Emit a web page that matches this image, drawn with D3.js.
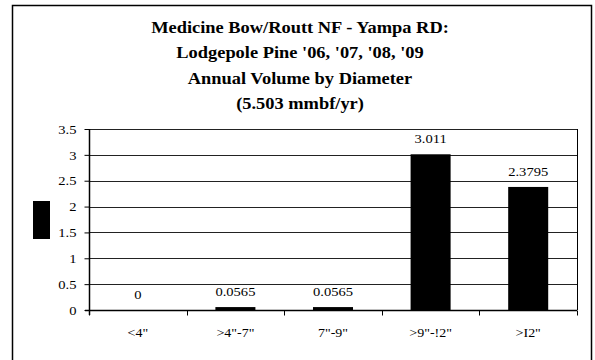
<!DOCTYPE html>
<html><head><meta charset="utf-8">
<script src="https://cdn.jsdelivr.net/npm/d3@7"></script>
<style>body{margin:0;background:#fff}text{font-family:'Liberation Serif','Times New Roman',serif !important}</style>
</head><body><svg id="c" width="595" height="360"></svg>
<script>
const titleLines = ["Medicine Bow/Routt NF - Yampa RD:", "Lodgepole Pine '06, '07, '08, '09", "Annual Volume by Diameter", "(5.503 mmbf/yr)"];
const categories = ['<4"', '>4"-7"', '7"-9"', '>9"-!2"', '>I2"'];
const values = [0, 0.0565, 0.0565, 3.011, 2.3795];
const valueLabels = ["0", "0.0565", "0.0565", "3.011", "2.3795"];
const yTicks = [0, 0.5, 1, 1.5, 2, 2.5, 3, 3.5];
const yTickLabels = ["0", "0.5", "1", "1.5", "2", "2.5", "3", "3.5"];

const FONT = "'Liberation Serif','Times New Roman',serif";
const SX = 1.12;
const svg = d3.select("#c").attr("font-family", FONT);
svg.append("rect").attr("x", 12.5).attr("y", 5.5).attr("width", 579).attr("height", 360)
  .attr("fill", "#fff").attr("stroke", "#000").attr("stroke-width", 1.5);

function place(sel, fx, fy, sx) {
  sel.attr("x", 0).attr("y", 0)
    .attr("transform", (d, i) => `translate(${fx(d, i)},${fy(d, i)}) scale(${sx || SX},1)`);
}

const tl = svg.append("g").selectAll("text").data(titleLines).join("text")
  .attr("text-anchor", "middle").attr("font-weight", "bold").attr("font-size", 16.3).attr("font-family", FONT)
  .text(d => d);
place(tl, () => 300, (d, i) => 33 + i * 25.3, 1.13);

const L = 89, R = 577, T = 129, B = 310;
const x = d3.scaleBand().domain(categories).range([L, R]).paddingInner(0.59).paddingOuter(0.295);
const xb = d3.scaleBand().domain(categories).range([L, R]);
const y = d3.scaleLinear().domain([0, 3.5]).range([B, T]);

svg.append("g").selectAll("line").data(yTicks.slice(1)).join("line")
  .attr("x1", L).attr("x2", R).attr("y1", d => Math.round(y(d)) + 0.5).attr("y2", d => Math.round(y(d)) + 0.5)
  .attr("stroke", "#222").attr("stroke-width", 1);
svg.append("line").attr("x1", R + 0.5).attr("x2", R + 0.5).attr("y1", T).attr("y2", B).attr("stroke", "#000");

svg.append("g").selectAll("rect").data(values).join("rect")
  .attr("x", (d, i) => x(categories[i])).attr("width", x.bandwidth())
  .attr("y", d => y(d)).attr("height", d => B - y(d)).attr("fill", "#000");

const vl = svg.append("g").selectAll("text").data(values).join("text")
  .attr("text-anchor", "middle").attr("font-size", 13).attr("font-family", FONT)
  .text((d, i) => valueLabels[i]);
place(vl, (d, i) => xb(categories[i]) + xb.bandwidth() / 2, d => y(d) - 11);

const yAxis = d3.axisLeft(y).tickValues(yTicks).tickFormat((d, i) => yTickLabels[i]).tickSize(5).tickPadding(8);
const gy = svg.append("g").attr("transform", `translate(${L + 0.5},0)`).call(yAxis).attr("font-family", FONT);
gy.select(".domain").attr("stroke", "#000").attr("stroke-width", 1.5).attr("d", `M0,${T}V${B + 5}`);
gy.selectAll(".tick text").attr("font-size", 13).attr("font-family", FONT).attr("fill", "#000")
  .attr("x", 0).attr("dy", "0.32em").attr("transform", `translate(-13,0) scale(${SX},1)`);
gy.selectAll("line").attr("stroke", "#000");

const gx = svg.append("g").attr("transform", `translate(0,${B + 0.5})`);
gx.append("line").attr("x1", L - 4).attr("x2", R).attr("y1", 0).attr("y2", 0).attr("stroke", "#000").attr("stroke-width", 1.5);
gx.selectAll("line.tk").data(categories.concat(["end"])).join("line").attr("class", "tk")
  .attr("x1", (d, i) => Math.round(L + i * xb.bandwidth()) + 0.5).attr("x2", (d, i) => Math.round(L + i * xb.bandwidth()) + 0.5)
  .attr("y1", 0).attr("y2", 5).attr("stroke", "#000");
const xl = gx.selectAll("text").data(categories).join("text")
  .attr("text-anchor", "middle").attr("font-size", 12.5).attr("font-family", FONT)
  .text(d => d);
place(xl, d => xb(d) + xb.bandwidth() / 2, () => 26);

svg.append("rect").attr("x", 33).attr("y", 201).attr("width", 17).attr("height", 38).attr("fill", "#000");
</script></body></html>
